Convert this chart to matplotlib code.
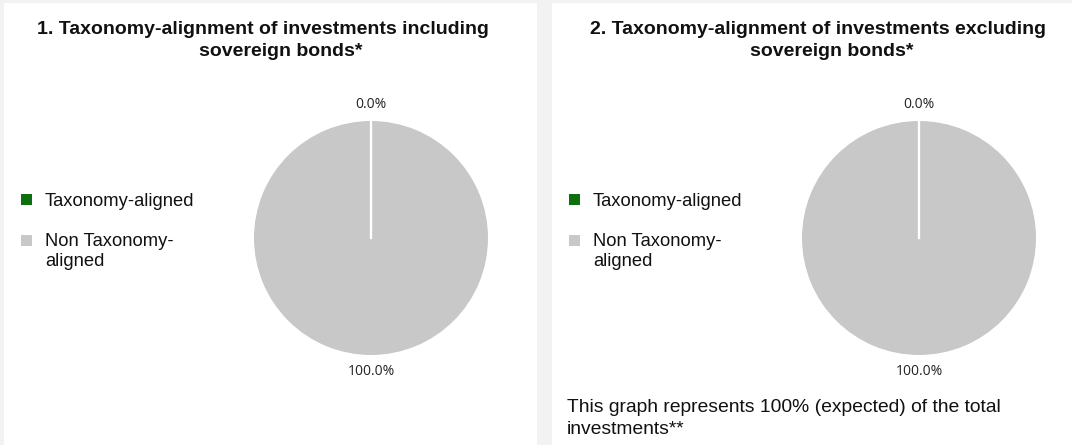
import numpy as np
import matplotlib.pyplot as plt
from matplotlib.patches import Rectangle

# data
categories = ['Taxonomy-aligned', 'Non Taxonomy-\naligned']
incl_sovereign = [0.0, 100.0]
excl_sovereign = [0.0, 100.0]
colors = ['#0e6f0e', '#c8c8c8']
titles = ['1. Taxonomy-alignment of investments including\nsovereign bonds*',
          '2. Taxonomy-alignment of investments excluding\nsovereign bonds*']
note = 'This graph represents 100% (expected) of the total\ninvestments**'

W, H = 1072, 445
fig = plt.figure(figsize=(W / 100, H / 100), dpi=100)
fig.patch.set_facecolor('#f2f2f2')

# white panels (pixel coords -> figure fraction)
panels = [(4, 537), (552, 1072)]
for x0, x1 in panels:
    fig.add_artist(Rectangle((x0 / W, 0), (x1 - x0) / W, (H - 3) / H,
                             transform=fig.transFigure, facecolor='white',
                             edgecolor='none', zorder=0))

pie_centers = [371, 919]
title_centers = [(263, 281), (818, 832)]
radius = 117
cy = 238

for i, vals in enumerate([incl_sovereign, excl_sovereign]):
    x0, x1 = panels[i]
    cx = pie_centers[i]
    ax = fig.add_axes([(cx - radius) / W, (H - cy - radius) / H,
                       2 * radius / W, 2 * radius / H])
    wedges, texts, autotexts = ax.pie(
        vals, colors=colors, startangle=90, counterclock=False,
        autopct='%1.1f%%', pctdistance=1.14, radius=1,
        wedgeprops=dict(edgecolor='none'),
        textprops=dict(fontsize=10, color='#222222', family='Open Sans'))
    # white separators at wedge boundaries
    for w in wedges:
        for th in (w.theta1, w.theta2):
            ax.plot([0, w.r * np.cos(np.radians(th))],
                    [0, w.r * np.sin(np.radians(th))],
                    color='white', lw=1.5)
    ax.set_xlim(-1, 1)
    ax.set_ylim(-1, 1)
    ax.set_aspect('auto')
    ax.axis('off')

    # title, line by line
    for line, xc, y in zip(titles[i].split('\n'), title_centers[i], (30, 52)):
        fig.text(xc / W, 1 - y / H, line, ha='center', va='center',
                 fontsize=14, fontweight='bold', family='Liberation Sans',
                 color='#111111')

    # legend
    lx = x0 + 17
    for c, lab, y in zip(colors, categories, (200, 240.5)):
        fig.add_artist(Rectangle((lx / W, (H - y - 5.5) / H), 11 / W, 11 / H,
                                 transform=fig.transFigure, facecolor=c,
                                 edgecolor='none'))
        for k, part in enumerate(lab.split('\n')):
            fig.text((lx + 24) / W, 1 - (y + 1 + 20 * k) / H, part, ha='left',
                     va='center', fontsize=13.2, family='Liberation Sans',
                     color='#111111')

for k, part in enumerate(note.split('\n')):
    fig.text(567 / W, 1 - (408 + 22 * k) / H, part, ha='left', va='center',
             fontsize=13.9, family='Liberation Sans', color='#111111')

fig.savefig('out.png', dpi=100, facecolor=fig.get_facecolor())
